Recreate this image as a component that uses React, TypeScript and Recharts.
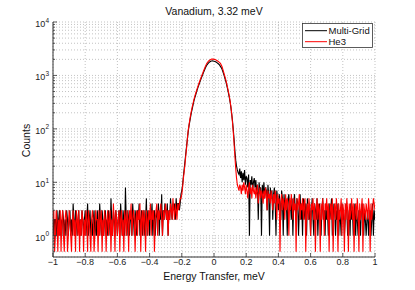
import React from 'react';
import { LineChart, Line, XAxis, YAxis, CartesianGrid } from 'recharts';

// energy bins: -1 .. 1 meV, 0.005 meV apart
const E_START = -1;
const E_STEP = 0.005;

// Multi-Grid counts (left tail -1..-0.225, peak -0.22..0.15, right tail 0.155..1)
const mgLeft = [
  3, 1, 2, 2, 1, 3, 1, 2, 3, 1,
  2, 1, 3, 2, 1, 2, 1, 3, 2, 1,
  2, 3, 1, 2, 1, 4, 2, 1, 3, 2,
  1, 2, 3, 1, 2, 1, 3, 2, 1, 2,
  3, 1, 2, 4, 1, 2, 3, 1, 2, 1,
  2, 3, 1, 2, 1, 3, 2, 1, 4, 2,
  1, 3, 2, 1, 2, 3, 1, 2, 1, 3,
  2, 1, 5, 2, 1, 3, 2, 1, 3, 2,
  1, 2, 3, 1, 4, 2, 1, 3, 2, 1,
  8, 2, 1, 3, 2, 1, 2, 3, 1, 4,
  2, 1, 3, 2, 1, 3, 2, 4, 1, 2,
  3, 1, 2, 3, 1, 2, 5, 1, 3, 2,
  1, 3, 2, 4, 1, 2, 3, 1, 2, 3,
  2, 4, 1, 3, 2, 6, 1, 3, 2, 4,
  3, 2, 4, 1, 3, 2, 5, 3, 2, 4,
  3, 4, 2, 5, 3, 4,
];
const mgPeak = [
  4, 3, 4, 6, 7, 9, 13, 18, 25, 35,
  48, 66, 90, 115, 140, 170, 205, 240, 280, 330,
  375, 420, 470, 530, 590, 650, 720, 790, 870, 950,
  1040, 1140, 1240, 1350, 1450, 1550, 1630, 1700, 1760, 1800,
  1840, 1860, 1870, 1865, 1850, 1830, 1800, 1760, 1720, 1670,
  1620, 1560, 1480, 1400, 1300, 1180, 1060, 950, 840, 740,
  640, 550, 460, 390, 320, 250, 190, 140, 95, 62,
  38, 26, 20, 17, 15,
];
const mgRight = [
  14, 18, 12, 16, 10, 15, 11, 17, 9, 13,
  12, 8, 14, 1, 11, 9, 13, 7, 10, 12,
  8, 11, 6, 9, 2, 10, 7, 8, 1, 9,
  6, 10, 5, 8, 7, 3, 9, 6, 1, 8,
  5, 7, 2, 6, 8, 4, 1, 7, 5, 3,
  6, 4, 2, 7, 5, 1, 6, 3, 5, 4,
  1, 5, 6, 3, 4, 2, 5, 1, 4, 6,
  3, 2, 5, 4, 1, 3, 6, 2, 4, 1,
  5, 3, 2, 4, 1, 5, 3, 2, 4, 1,
  3, 5, 2, 1, 4, 3, 2, 5, 1, 3,
  4, 2, 1, 3, 5, 2, 3, 1, 4, 2,
  3, 1, 4, 2, 3, 5, 1, 2, 4, 3,
  1, 3, 2, 4, 1, 3, 2, 1, 4, 2,
  3, 1, 2, 4, 3, 1, 2, 3, 1, 4,
  2, 3, 1, 2, 4, 1, 3, 2, 1, 3,
  2, 1, 3, 4, 2, 1, 3, 2, 1, 2,
  3, 1, 2, 3, 1, 2, 4, 1, 3, 2,
];

// He3 counts (0.5 = empty bin, drawn at the bottom edge)
const heLeft = [
  2, 3, 0.5, 1, 3, 2, 0.5, 2, 1, 3,
  0.5, 2, 3, 1, 0.5, 2, 3, 2, 0.5, 1,
  3, 2, 1, 0.5, 2, 3, 1, 2, 0.5, 3,
  2, 1, 3, 0.5, 2, 1, 3, 2, 0.5, 2,
  1, 3, 2, 0.5, 3, 2, 1, 0.5, 2, 3,
  2, 0.5, 1, 3, 2, 2, 0.5, 3, 1, 2,
  3, 0.5, 2, 1, 3, 2, 0.5, 2, 3, 1,
  2, 3, 0.5, 2, 1, 4, 2, 0.5, 3, 2,
  1, 2, 3, 0.5, 2, 3, 1, 2, 0.5, 3,
  2, 1, 3, 2, 0.5, 3, 2, 4, 1, 2,
  3, 2, 0.5, 2, 3, 1, 3, 2, 4, 0.5,
  2, 3, 1, 3, 2, 0.5, 3, 2, 1, 3,
  2, 4, 1, 3, 2, 3, 0.5, 2, 3, 4,
  1, 3, 2, 3, 4, 2, 1, 3, 2, 3,
  4, 2, 3, 1, 3, 2, 4, 3, 2, 5,
  3, 2, 4, 3, 2, 4,
];
const hePeak = [
  3, 4, 5, 5, 6, 8, 12, 16, 22, 32,
  45, 68, 95, 120, 150, 185, 220, 260, 300, 350,
  400, 450, 500, 560, 620, 690, 760, 840, 920, 1010,
  1100, 1210, 1320, 1440, 1560, 1670, 1760, 1840, 1900, 1950,
  1990, 2020, 2030, 2020, 2000, 1980, 1960, 1920, 1880, 1840,
  1790, 1740, 1680, 1570, 1450, 1300, 1150, 1020, 900, 790,
  680, 580, 490, 410, 330, 260, 190, 130, 85, 52,
  30, 18, 12, 9, 8,
];
const heRight = [
  7, 9, 8, 6, 9, 7, 10, 8, 6, 9,
  7, 5, 8, 10, 6, 8, 5, 9, 7, 6,
  8, 5, 7, 9, 4, 6, 8, 5, 7, 6,
  4, 7, 5, 8, 6, 3, 7, 5, 6, 4,
  7, 5, 3, 6, 4, 7, 5, 2, 6, 4,
  5, 0.5, 4, 6, 3, 5, 4, 2, 6, 3,
  5, 4, 1, 5, 3, 6, 4, 2, 5, 3,
  4, 0.5, 5, 3, 4, 6, 2, 4, 3, 5,
  2, 4, 5, 0.5, 3, 4, 2, 5, 3, 1,
  4, 3, 5, 2, 4, 0.5, 3, 5, 2, 4,
  3, 0.5, 4, 2, 5, 3, 1, 4, 3, 5,
  2, 4, 0.5, 3, 4, 2, 5, 0.5, 3, 4,
  2, 5, 3, 0.5, 4, 2, 3, 5, 1, 4,
  3, 0.5, 4, 2, 5, 3, 0.5, 4, 2, 3,
  5, 2, 4, 0.5, 3, 4, 2, 5, 3, 0.5,
  4, 2, 3, 5, 0.5, 4, 3, 2, 4, 3,
  2, 5, 3, 0.5, 4, 2, 3, 5, 4, 3,
];

const xTicks = [-1, -0.8, -0.6, -0.4, -0.2, 0, 0.2, 0.4, 0.6, 0.8, 1];
const decades = [1, 10, 100, 1000, 10000];
const yTicks = [
  0.5, 0.6, 0.7, 0.8, 0.9,
  1, 2, 3, 4, 5, 6, 7, 8, 9,
  10, 20, 30, 40, 50, 60, 70, 80, 90,
  100, 200, 300, 400, 500, 600, 700, 800, 900,
  1000, 2000, 3000, 4000, 5000, 6000, 7000, 8000, 9000,
  10000,
];

const multiGrid = [...mgLeft, ...mgPeak, ...mgRight];
const he3 = [...heLeft, ...hePeak, ...heRight];
const data = multiGrid.map((mg, i) => ({ e: E_START + i * E_STEP, mg, he: he3[i] }));

const AX = '#333';
const FONT = '"Liberation Sans", Arial, Helvetica, sans-serif';
const Y_GAP = 4;

const fmtX = (v: number) => (v < 0 ? '\u2212' + Math.abs(v) : String(v));

const LeftTick = (props: any) => {
  const { x, y, payload } = props;
  const v = payload.value;
  const major = decades.includes(v);
  const ax = x + Y_GAP;
  return (
    <g>
      <line x1={ax} x2={ax + (major ? 4 : 2)} y1={y} y2={y} stroke={AX} strokeWidth={0.8} />
      {major && (
        <text x={x} y={y + 5} textAnchor="end" fontSize={9} fill="#222" fontFamily={FONT}>
          10<tspan dy={-4.5} fontSize={6.5}>{Math.round(Math.log10(v))}</tspan>
        </text>
      )}
    </g>
  );
};

const RightTick = (props: any) => {
  const { x, y, payload } = props;
  const major = decades.includes(payload.value);
  return <line x1={x} x2={x - (major ? 4 : 2)} y1={y} y2={y} stroke={AX} strokeWidth={0.8} />;
};

const BottomTick = (props: any) => {
  const { x, y, payload } = props;
  return (
    <g>
      <line x1={x} x2={x} y1={y} y2={y - 4} stroke={AX} strokeWidth={0.8} />
      <text x={x} y={y + 8} textAnchor="middle" fontSize={9} fill="#222" fontFamily={FONT}>
        {fmtX(payload.value)}
      </text>
    </g>
  );
};

const TopTick = (props: any) => {
  const { x, y } = props;
  return <line x1={x} x2={x} y1={y} y2={y + 4} stroke={AX} strokeWidth={0.8} />;
};

export default function App() {
  return (
    <div style={{ position: 'absolute', left: 0, top: 0, width: 415, height: 290, background: '#fff' }}>
      <LineChart width={415} height={290} data={data} margin={{ top: 22, right: 40, bottom: 0, left: 8 }}>
        <CartesianGrid stroke="#b4b4b4" strokeDasharray="1 2" strokeWidth={0.8} />
        <XAxis
          dataKey="e"
          type="number"
          domain={[-1, 1]}
          ticks={xTicks}
          interval={0}
          height={33}
          tickSize={0}
          tickMargin={0}
          tickLine={false}
          tick={<BottomTick />}
          stroke={AX}
          allowDataOverflow
        />
        <XAxis
          xAxisId="top"
          orientation="top"
          type="number"
          domain={[-1, 1]}
          ticks={xTicks}
          interval={0}
          height={0}
          tickSize={0}
          tickMargin={0}
          tickLine={false}
          tick={<TopTick />}
          stroke={AX}
        />
        <YAxis
          scale="log"
          type="number"
          domain={[0.4, 10000]}
          ticks={yTicks}
          interval={0}
          width={45}
          tickSize={0}
          tickMargin={Y_GAP}
          tickLine={false}
          tick={<LeftTick />}
          stroke={AX}
          allowDataOverflow
        />
        <YAxis
          yAxisId="right"
          orientation="right"
          scale="log"
          type="number"
          domain={[0.4, 10000]}
          ticks={yTicks}
          interval={0}
          width={0}
          tickSize={0}
          tickMargin={0}
          tickLine={false}
          tick={<RightTick />}
          stroke={AX}
          allowDataOverflow
        />
        <Line type="linear" dataKey="mg" stroke="#000" strokeWidth={1.1} dot={false} isAnimationActive={false} />
        <Line type="linear" dataKey="he" stroke="#ff0000" strokeWidth={1.1} dot={false} isAnimationActive={false} />
      </LineChart>
      <svg
        width={415}
        height={290}
        style={{ position: 'absolute', left: 0, top: 0, pointerEvents: 'none' }}
        fontFamily={FONT}
      >
        <text x={214} y={15} textAnchor="middle" fontSize={10.5} fill="#111">
          Vanadium, 3.32 meV
        </text>
        <text x={214} y={280} textAnchor="middle" fontSize={10.5} fill="#111">
          Energy Transfer, meV
        </text>
        <text x={30} y={140.5} textAnchor="middle" fontSize={10.5} fill="#111" transform="rotate(-90, 30, 140.5)">
          Counts
        </text>
        <g>
          <rect x={302.5} y={23.5} width={70} height={24} fill="#fff" stroke={AX} strokeWidth={0.8} />
          <line x1={305} x2={327} y1={30.7} y2={30.7} stroke="#000" strokeWidth={1} />
          <text x={328.5} y={34.3} fontSize={9.5} fill="#111">Multi-Grid</text>
          <line x1={305} x2={327} y1={41.7} y2={41.7} stroke="#ff0000" strokeWidth={1} />
          <text x={328.5} y={45.3} fontSize={9.5} fill="#111">He3</text>
        </g>
      </svg>
    </div>
  );
}
